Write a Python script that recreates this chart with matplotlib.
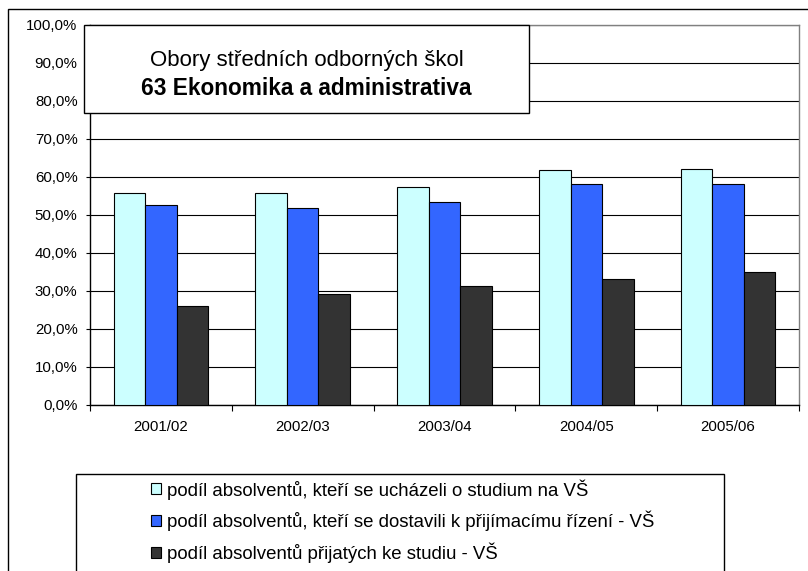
import numpy as np
import matplotlib
matplotlib.use("Agg")
import matplotlib.pyplot as plt
from matplotlib.patches import Rectangle
from matplotlib.ticker import FuncFormatter, FixedLocator

plt.rcParams["font.family"] = ["Liberation Sans", "DejaVu Sans"]

years = ["2001/02", "2002/03", "2003/04", "2004/05", "2005/06"]
uchazeli = [55.7, 55.7, 57.2, 61.8, 62.1]
dostavili = [52.6, 51.8, 53.4, 58.0, 58.0]
prijati = [25.9, 29.2, 31.1, 33.1, 34.9]

labels = [
    "podíl absolventů, kteří se ucházeli o studium na VŠ",
    "podíl absolventů, kteří se dostavili k přijímacímu řízení - VŠ",
    "podíl absolventů přijatých ke studiu - VŠ",
]
colors = ["#CCFFFF", "#3366FF", "#333333"]

W, H = 808, 571
fig = plt.figure(figsize=(W / 100, H / 100), dpi=100)

# outer chart frame (cut by the image edge on right and bottom)
fig.add_artist(Rectangle((8 / W, -0.1), 1.0, 1 - 9 / H + 0.1,
                         transform=fig.transFigure, fill=False,
                         edgecolor="black", lw=1.0))

left, right, top, bottom = 90, 799, 25, 404.5
ax = fig.add_axes([left / W, 1 - bottom / H, (right - left) / W, (bottom - top) / H])

x = np.arange(len(years))
w = 0.222
bars = []
for i, (vals, col) in enumerate(zip([uchazeli, dostavili, prijati], colors)):
    b = ax.bar(x + (i - 1) * w, vals, width=w, color=col, edgecolor="black",
               linewidth=0.8, zorder=3, label=labels[i])
    bars.append(b)

ax.set_xlim(-0.5, len(years) - 0.5)
ax.set_ylim(0, 100)
ax.set_yticks(np.arange(0, 101, 10))
ax.yaxis.set_major_formatter(FuncFormatter(lambda v, p: f"{v:.1f}%".replace(".", ",")))
ax.grid(axis="y", color="black", linewidth=0.8, zorder=0)

ax.set_xticks(x)
ax.set_xticklabels(years)
ax.xaxis.set_minor_locator(FixedLocator(np.arange(-0.5, len(years), 1.0)))
ax.tick_params(axis="x", which="major", length=0, pad=11, labelsize=10.8)
ax.tick_params(axis="x", which="minor", length=4, width=0.8, direction="out")
ax.tick_params(axis="y", length=3, width=0.8, pad=6, labelsize=10.8)

for s in ["left", "bottom"]:
    ax.spines[s].set_color("black")
    ax.spines[s].set_linewidth(1.0)
for s in ["top", "right"]:
    ax.spines[s].set_color("#808080")
    ax.spines[s].set_linewidth(1.0)

# title box
bx0, bx1, by0, by1 = 84, 529, 25, 113
fig.add_artist(Rectangle((bx0 / W, 1 - by1 / H), (bx1 - bx0) / W, (by1 - by0) / H,
                         transform=fig.transFigure, facecolor="white",
                         edgecolor="black", lw=1.0, zorder=5))
cx = (bx0 + bx1) / 2 / W
fig.text(cx, 1 - 66 / H, "Obory středních odborných škol", ha="center",
         va="baseline", fontsize=16.0, zorder=6)
fig.text(cx, 1 - 95 / H, "63 Ekonomika a administrativa", ha="center",
         va="baseline", fontsize=16.3, fontweight="bold", zorder=6)

# legend box
lx0, lx1, ly0 = 75.7, 724, 474
fig.add_artist(Rectangle((lx0 / W, -0.1), (lx1 - lx0) / W, 1 - ly0 / H + 0.1,
                         transform=fig.transFigure, fill=False,
                         edgecolor="black", lw=1.0))
fig.legend(handles=bars, labels=labels, loc="upper left",
           bbox_to_anchor=(151 / W, 1 - 479 / H), frameon=False,
           fontsize=13.4, handlelength=0.54, handleheight=0.54,
           handletextpad=0.32, labelspacing=0.6, borderpad=0,
           borderaxespad=0)

fig.savefig("out.png", dpi=100)
